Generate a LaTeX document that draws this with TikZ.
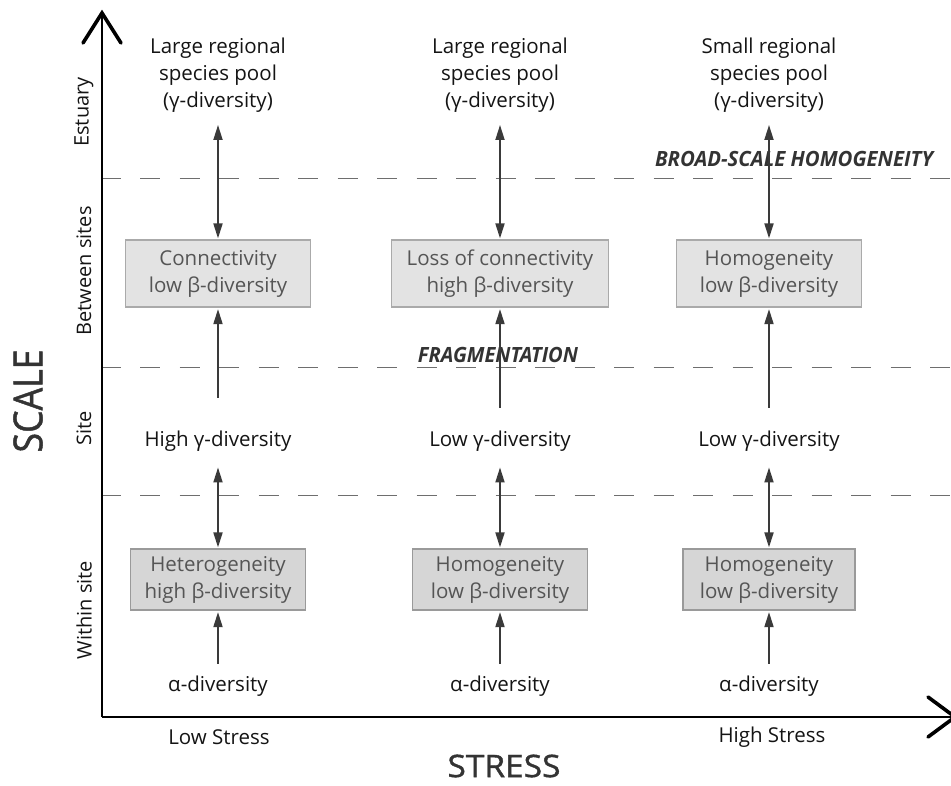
\documentclass[tikz,border=0pt]{standalone}
\usepackage{fontspec}
\setmainfont{Open Sans}
\newfontfamily\titlefont[FakeBold=1.2]{Open Sans}
\usetikzlibrary{arrows.meta}
\definecolor{arrc}{HTML}{3A3A3A}
\definecolor{boxtxt}{HTML}{555555}
\definecolor{fillA}{HTML}{E3E3E3}
\definecolor{fillB}{HTML}{D6D6D6}
\definecolor{edgeA}{HTML}{AAAAAA}
\definecolor{edgeB}{HTML}{9A9A9A}
\definecolor{dashc}{HTML}{6E6E6E}
\definecolor{titlec}{HTML}{333333}
\begin{document}
\begin{tikzpicture}[x=1pt,y=-1pt,
  txt/.style={font=\fontsize{20.5}{27}\selectfont, align=center, inner sep=0pt, text=black!92},
  boxA/.style={draw=edgeA, fill=fillA, line width=1.2pt, text=boxtxt, font=\fontsize{20.5}{27}\selectfont, align=center, minimum height=67pt, inner sep=0pt},
  boxB/.style={draw=edgeB, fill=fillB, line width=1.2pt, text=boxtxt, font=\fontsize{20.5}{27}\selectfont, align=center, minimum height=61pt, inner sep=0pt},
  dbl/.style={draw=arrc, line width=1.8pt, {Triangle[length=15pt,width=9pt]}-{Triangle[length=15pt,width=9pt]}},
  sgl/.style={draw=arrc, line width=1.8pt, -{Triangle[length=15pt,width=9pt]}},
  sep/.style={draw=dashc, line width=1pt, dash pattern=on 20pt off 19.5pt, dash phase=1.5pt},
  axis/.style={draw=black, line width=1.8pt},
  vee/.style={draw=black, line width=3.6pt, line cap=round, line join=miter},
  emph/.style={font=\fontsize{21}{24}\selectfont\bfseries\itshape, text=titlec, inner sep=0pt},
  side/.style={font=\fontsize{20}{22}\selectfont, rotate=90, inner sep=0pt, text=black!92}
]
\useasboundingbox (0,0) rectangle (951,785);

% separators
\coordinate (s1a) at (102,178); \coordinate (s1b) at (951,178);
\coordinate (s2a) at (102,367); \coordinate (s2b) at (951,367);
\coordinate (s3a) at (102,495); \coordinate (s3b) at (951,495);
\draw[sep] (s1a) -- (s1b);
\draw[sep] (s2a) -- (s2b);
\draw[sep] (s3a) -- (s3b);

% axes
\coordinate (O) at (102,717);
\coordinate (ytop) at (102,13);
\coordinate (xend) at (955,717);
\draw[axis] (O) -- (ytop);
\draw[axis] (O) -- (xend);
\draw[vee] ([shift={(-19,30)}]ytop) -- (ytop) -- ([shift={(19,30)}]ytop);
\draw[vee] ([shift={(-27,-20)}]xend) -- (xend) -- ([shift={(-27,20)}]xend);

% axis titles
\node[font=\titlefont\fontsize{40}{44}\selectfont, text=titlec, rotate=90, inner sep=0pt] (scale) at (28,401) {\resizebox{103pt}{\height}{SCALE}};
\node[font=\titlefont\fontsize{31}{34}\selectfont, text=titlec, inner sep=0pt] (stress) at (504,766) {\resizebox{113pt}{\height}{STRESS}};

% side labels
\node[side] (est) at (84,112) {Estuary};
\node[side] (btw) at (84,271) {Between sites};
\node[side] (sit) at (84,428) {Site};
\node[side] (wit) at (84,610) {Within site};

% stress labels
\node[txt] (lows) at (219,737) {Low Stress};
\node[txt] (highs) at (772,737) {High Stress};

% emphasised labels
\node[emph] (broad) at (794,159) {\resizebox{278pt}{\height}{BROAD-SCALE HOMOGENEITY}};
\node[emph] (frag) at (498,355) {\resizebox{160pt}{\height}{FRAGMENTATION}};

% column 1
\node[txt] (top1) at (218,75.5) {Large regional\\species pool\\(γ-diversity)};
\node[boxA, minimum width=185pt] (ba1) at (218,273.5) {Connectivity\\low β-diversity};
\node[txt] (mid1) at (218,441) {High γ-diversity};
\node[boxB, minimum width=175pt] (bb1) at (218,579.5) {Heterogeneity\\high β-diversity};
\node[txt] (al1) at (218,686) {α-diversity};

% column 2
\node[txt] (top2) at (500,75.5) {Large regional\\species pool\\(γ-diversity)};
\node[boxA, minimum width=217pt] (ba2) at (500,273.5) {Loss of connectivity\\high β-diversity};
\node[txt] (mid2) at (500,441) {Low γ-diversity};
\node[boxB, minimum width=175pt] (bb2) at (500,579.5) {Homogeneity\\low β-diversity};
\node[txt] (al2) at (500,686) {α-diversity};

% column 3
\node[txt] (top3) at (769,75.5) {Small regional\\species pool\\(γ-diversity)};
\node[boxA, minimum width=185pt] (ba3) at (769,273.5) {Homogeneity\\low β-diversity};
\node[txt] (mid3) at (769,441) {Low γ-diversity};
\node[boxB, minimum width=172pt] (bb3) at (769,579.5) {Homogeneity\\low β-diversity};
\node[txt] (al3) at (769,686) {α-diversity};

% connectors
\foreach \c/\s in {1/33,2/23,3/23}{
  \draw[dbl, shorten <=12pt, shorten >=1pt] (top\c.south) -- (ba\c.north);
  \draw[sgl, shorten <=\s pt, shorten >=1.5pt] (mid\c.north) -- (ba\c.south);
  \draw[dbl, shorten <=16pt, shorten >=1pt] (mid\c.south) -- (bb\c.north);
  \draw[sgl, shorten <=12pt, shorten >=1.5pt] (al\c.north) -- (bb\c.south);
}
\end{tikzpicture}
\end{document}
